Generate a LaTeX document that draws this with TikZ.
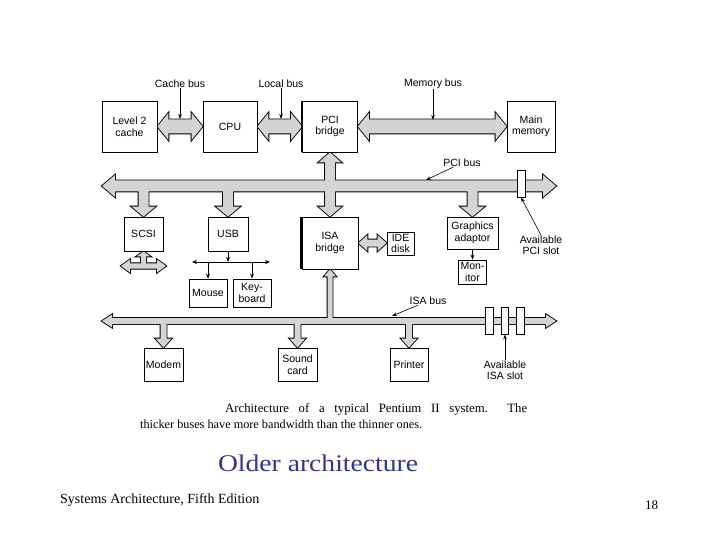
\documentclass[tikz,border=0pt]{standalone}
\usepackage{fontspec}
\setmainfont{Liberation Serif}
\setsansfont{Liberation Sans}
\usetikzlibrary{arrows.meta,calc,backgrounds}
\definecolor{busgray}{RGB}{212,212,212}
\definecolor{titleblue}{RGB}{51,51,153}
% horizontal double arrow: from #1 to #2, shaft half #3, head half #4, head length #5
\newcommand\hdbl[5]{let \p1=(#1), \p2=(#2) in (\x1,\y1) -- (\x1+#5pt,\y1+#4pt) -- (\x1+#5pt,\y1+#3pt) -- (\x2-#5pt,\y1+#3pt) -- (\x2-#5pt,\y1+#4pt) -- (\x2,\y1) -- (\x2-#5pt,\y1-#4pt) -- (\x2-#5pt,\y1-#3pt) -- (\x1+#5pt,\y1-#3pt) -- (\x1+#5pt,\y1-#4pt) -- cycle}
% vertical arrow going down from the level of #1 to tip #2 (clockwise)
\newcommand\vdn[5]{let \p1=(#1), \p2=(#2) in (\x2+#3pt,\y1) -- (\x2+#3pt,\y2+#5pt) -- (\x2+#4pt,\y2+#5pt) -- (\x2,\y2) -- (\x2-#4pt,\y2+#5pt) -- (\x2-#3pt,\y2+#5pt) -- (\x2-#3pt,\y1) -- cycle}
% vertical arrow going up from the level of #1 to tip #2 (clockwise)
\newcommand\vup[5]{let \p1=(#1), \p2=(#2) in (\x2-#3pt,\y1) -- (\x2-#3pt,\y2-#5pt) -- (\x2-#4pt,\y2-#5pt) -- (\x2,\y2) -- (\x2+#4pt,\y2-#5pt) -- (\x2+#3pt,\y2-#5pt) -- (\x2+#3pt,\y1) -- cycle}
\begin{document}
\begin{tikzpicture}[x=1pt,y=-1pt,
  box/.style={draw, line width=0.9pt, fill=white, font=\sffamily\fontsize{10.5}{11.5}\selectfont, align=center, inner sep=0pt},
  lbl/.style={font=\sffamily\fontsize{10.5}{11.5}\selectfont, align=center, inner sep=0pt},
  ptr/.style={line width=0.6pt, -{Stealth[length=5pt,width=3.5pt]}},
  thinarrow/.style={line width=0.8pt, -{Stealth[length=5pt,width=4pt]}},
  busline/.style={line width=1.8pt, line join=miter},
  busfill/.style={fill=busgray},
  slot/.style={draw, line width=0.9pt, fill=white, inner sep=0pt, minimum width=7.5pt, minimum height=27pt}
]
\useasboundingbox (0,0) rectangle (720,540);

% boxes
\node[box, minimum width=55pt, minimum height=51pt] (l2) at (129.5,126.5) {Level 2\\cache};
\node[box, minimum width=54pt, minimum height=51pt] (cpu) at (230,126.5) {CPU};
\node[box, minimum width=55pt, minimum height=51pt] (pcib) at (330,126.5) {PCI\\bridge};
\node[box, minimum width=48pt, minimum height=51pt] (mem) at (531,126.5) {Main\\memory};
\node[box, minimum width=39pt, minimum height=34pt] (scsi) at (143.5,234) {SCSI};
\node[box, minimum width=40pt, minimum height=34pt] (usb) at (228,234) {USB};
\node[box, minimum width=56pt, minimum height=52pt] (isab) at (330,243) {ISA\\bridge};
\node[box, minimum width=27pt, minimum height=23pt] (ide) at (400.5,243.5) {IDE\\disk};
\node[box, minimum width=51pt, minimum height=32pt] (gfx) at (472.5,233) {Graphics\\adaptor};
\node[box, minimum width=28pt, minimum height=24pt] (mon) at (472.5,272) {Mon-\\itor};
\node[box, minimum width=38pt, minimum height=28pt] (mouse) at (208,293) {Mouse};
\node[box, minimum width=38pt, minimum height=28pt] (kbd) at (252,293) {Key-\\board};
\node[box, minimum width=39pt, minimum height=33pt] (modem) at (163.5,364.5) {Modem};
\node[box, minimum width=39pt, minimum height=33pt] (sound) at (297.5,364.5) {Sound\\card};
\node[box, minimum width=38pt, minimum height=33pt] (printer) at (409,364.5) {Printer};
\draw[line width=2.2pt] (pcib.north west) -- (pcib.south west);
\draw[line width=2.2pt] (isab.north west) -- (isab.south west);

% bus end points
\coordinate (pcil) at (102,186);
\coordinate (pcir) at (556,186);
\coordinate (isal) at (102,321);
\coordinate (isar) at (556,321);
\coordinate (scsil) at (121,266);
\coordinate (scsir) at (166,266);

% fat buses on the background layer
\def\cachebus{\hdbl{l2.east}{cpu.west}{7}{13.5}{11}}
\def\localbus{\hdbl{cpu.east}{pcib.west}{7}{13.5}{11}}
\def\membus{\hdbl{pcib.east}{mem.west}{7}{13.5}{11}}
\def\pcigroup{\hdbl{pcil}{pcir}{5.5}{11}{13} \vdn{pcil}{scsi.north}{5}{12}{10} \vdn{pcil}{usb.north}{5}{12}{10} \vdn{pcil}{gfx.north}{5}{12}{10} \vdn{pcil}{isab.north}{5}{11.5}{10} \vup{pcil}{pcib.south}{5}{11.5}{10}}
\def\isagroup{\hdbl{isal}{isar}{3}{6.5}{10} \vup{isal}{isab.south}{2.5}{6}{7} \vdn{isal}{modem.north}{3}{8}{9} \vdn{isal}{sound.north}{3}{8}{9} \vdn{isal}{printer.north}{3}{8}{9}}
\def\idebus{\hdbl{isab.east}{ide.west}{3.5}{8}{9}}
\def\scsigroup{\hdbl{scsil}{scsir}{2.7}{6.5}{9} \vup{scsil}{scsi.south}{2.5}{7}{5}}
\begin{pgfonlayer}{background}
\fill[white] (0,0) rectangle (720,540);
\path[busline,draw] \cachebus;  \path[busfill] \cachebus;
\path[busline,draw] \localbus;  \path[busfill] \localbus;
\path[busline,draw] \membus;    \path[busfill] \membus;
\path[busline,draw] \pcigroup;  \path[busfill] \pcigroup;
\path[busline,draw] \isagroup;  \path[busfill] \isagroup;
\path[busline,draw] \idebus;    \path[busfill] \idebus;
\path[busline,draw] \scsigroup; \path[busfill] \scsigroup;
\end{pgfonlayer}

% slots
\node[slot, minimum width=8pt] (pcislot) at (521,183.5) {};
\node[slot] (isaslot1) at (489.5,320.5) {};
\node[slot] (isaslot2) at (505,320.5) {};
\node[slot] (isaslot3) at (520.5,320.5) {};

% USB thin connections
\coordinate (usbj) at (228,262);
\coordinate (usbl) at (192,262);
\coordinate (usbr) at (270,262);
\coordinate (mj) at (208,262);
\coordinate (kj) at (252,262);
\draw[thinarrow] (usb.south) -- (usbj);
\draw[line width=0.8pt, {Stealth[length=5pt,width=4pt]}-{Stealth[length=5pt,width=4pt]}] (usbl) -- (usbr);
\draw[thinarrow] (mj) -- (mouse.north);
\draw[thinarrow] (kj) -- (kbd.north);
\draw[thinarrow] (gfx.south) -- (mon.north);

% labels with pointers
\node[lbl] (cachelbl) at (180,84) {Cache bus};
\node[lbl] (locallbl) at (281,84) {Local bus};
\node[lbl] (memlbl) at (433,84) {Memory bus};
\node[lbl] (pcilbl) at (462,163) {PCI bus};
\node[lbl] (isalbl) at (428,301) {ISA bus};
\node[lbl] (pcislotlbl) at (541,245) {Available\\PCI slot};
\node[lbl] (isaslotlbl) at (505,370) {Available\\ISA slot};
\coordinate (cachept) at (180,119);
\coordinate (localpt) at (281,119);
\coordinate (mempt) at (433,120);
\coordinate (pcipt) at (426,180);
\coordinate (isapt) at (392,316);
\draw[ptr] (cachelbl) -- (cachept);
\draw[ptr] (locallbl) -- (localpt);
\draw[ptr] (memlbl) -- (mempt);
\draw[ptr] (pcilbl) -- (pcipt);
\draw[ptr] (isalbl) -- (isapt);
\draw[ptr] (pcislotlbl.north) -- (pcislot.south);
\draw[ptr] (isaslotlbl) -- (isaslot2.south);

% captions
\node[anchor=base west, inner sep=0pt, font=\fontsize{12.75}{14}\selectfont] (cap1) at (225,412) {\makebox[302pt][s]{Architecture of a typical Pentium II system.\ \ The}};
\node[anchor=base west, inner sep=0pt, font=\fontsize{12.25}{14}\selectfont] (cap2) at (140,428) {thicker buses have more bandwidth than the thinner ones.};
\node[anchor=base, inner sep=0pt, font=\fontsize{24}{28}\selectfont, text=titleblue] (title) at (318,471) {\scalebox{1.15}[1]{Older architecture}};
\node[anchor=base west, inner sep=0pt, font=\fontsize{14}{16}\selectfont] (footer) at (60,503) {Systems Architecture, Fifth Edition};
\node[anchor=base west, inner sep=0pt, font=\fontsize{13}{15}\selectfont] (page) at (645,509) {18};
\end{tikzpicture}
\end{document}
